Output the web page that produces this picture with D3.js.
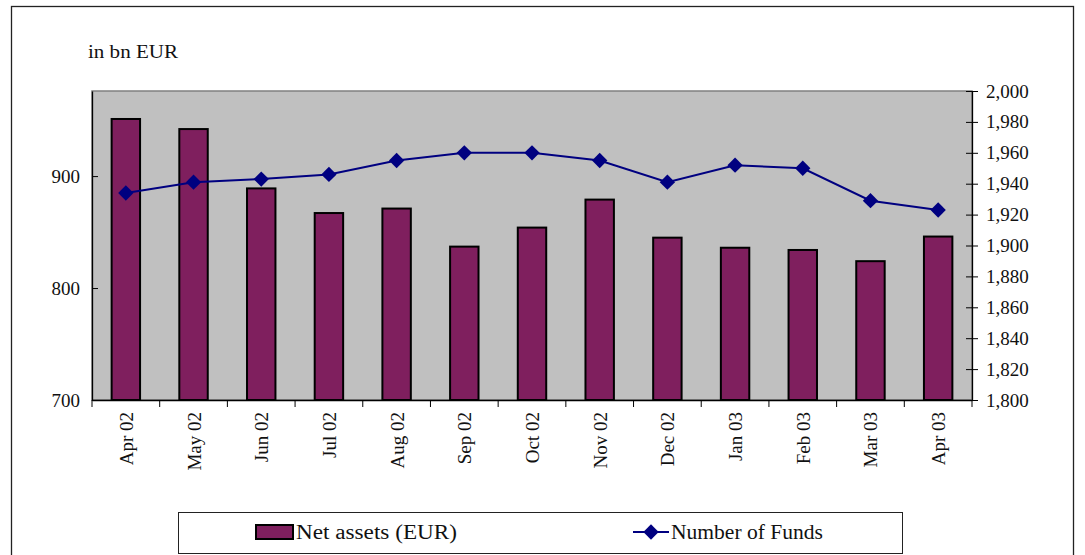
<!DOCTYPE html>
<html>
<head>
<meta charset="utf-8">
<script src="https://cdn.jsdelivr.net/npm/d3@7"></script>
<style>
  body { margin: 0; background: #fff; }
  svg text { font-family: "Liberation Serif", "DejaVu Serif", serif; fill: #111; }
</style>
</head>
<body>
<div id="chart"></div>
<script>
// months shown on the x axis
const months = ["Apr 02", "May 02", "Jun 02", "Jul 02", "Aug 02", "Sep 02", "Oct 02",
                "Nov 02", "Dec 02", "Jan 03", "Feb 03", "Mar 03", "Apr 03"];
// net assets in bn EUR (bars, left axis)
const netAssets = [951, 942, 889, 867, 871, 837, 854, 879, 845, 836, 834, 824, 846];
// number of funds (line, right axis)
const numFunds = [1934, 1941, 1943, 1946, 1955, 1960, 1960, 1955, 1941, 1952, 1950, 1929, 1923];
const leftTicks = [700, 800, 900];
const rightTicks = d3.range(1800, 2001, 20);

const width = 1085, height = 555;
const margin = {top: 91, right: 113, bottom: 155, left: 92};
const serif = "'Liberation Serif', 'DejaVu Serif', serif";

const svg = d3.select("#chart")
    .append("svg")
    .attr("width", width)
    .attr("height", height)
    .attr("font-family", serif);

// outer frame
svg.append("rect")
    .attr("x", 11.5).attr("y", 6.5)
    .attr("width", 1062).attr("height", 560)
    .attr("fill", "none").attr("stroke", "#222").attr("stroke-width", 1.3);

const x = d3.scaleBand()
    .domain(months)
    .range([margin.left, width - margin.right]);

const yL = d3.scaleLinear()
    .domain([700, 976])
    .range([height - margin.bottom, margin.top]);

const yR = d3.scaleLinear()
    .domain([1800, 2000])
    .range([height - margin.bottom, margin.top]);

// gray plot area
svg.append("rect")
    .attr("x", margin.left).attr("y", margin.top)
    .attr("width", width - margin.right - margin.left)
    .attr("height", height - margin.bottom - margin.top)
    .attr("fill", "#c0c0c0")
    .attr("stroke", "#808080").attr("stroke-width", 1.5);

// bars
const barW = x.bandwidth() * 0.42;
svg.selectAll(".bar")
    .data(netAssets)
    .join("rect")
    .attr("class", "bar")
    .attr("x", (d, i) => x(months[i]) + (x.bandwidth() - barW) / 2)
    .attr("y", d => yL(d))
    .attr("width", barW)
    .attr("height", d => yL(700) - yL(d))
    .attr("fill", "#7f1f5e")
    .attr("stroke", "#000").attr("stroke-width", 2);

// line of number of funds
const line = d3.line()
    .x((d, i) => x(months[i]) + x.bandwidth() / 2)
    .y(d => yR(d));

svg.append("path")
    .datum(numFunds)
    .attr("d", line)
    .attr("fill", "none")
    .attr("stroke", "#000080")
    .attr("stroke-width", 2);

const diamond = d3.symbol().type(d3.symbolDiamond2).size(150);
svg.selectAll(".pt")
    .data(numFunds)
    .join("path")
    .attr("class", "pt")
    .attr("transform", (d, i) => `translate(${x(months[i]) + x.bandwidth() / 2},${yR(d)})`)
    .attr("d", diamond)
    .attr("fill", "#000080");

// axes
const leftAxis = svg.append("g")
    .attr("transform", `translate(${margin.left},0)`)
    .call(d3.axisLeft(yL).tickValues(leftTicks).tickSizeInner(6).tickSizeOuter(0).tickPadding(6));
leftAxis.selectAll(".tick line").attr("x2", 6);

const rightAxis = svg.append("g")
    .attr("transform", `translate(${width - margin.right},0)`)
    .call(d3.axisRight(yR).tickValues(rightTicks).tickFormat(d3.format(","))
        .tickSizeInner(6).tickSizeOuter(0).tickPadding(8));
rightAxis.selectAll(".tick line").attr("x1", -6);

const bottomAxis = svg.append("g")
    .attr("transform", `translate(0,${height - margin.bottom})`)
    .call(d3.axisBottom(x).tickSize(0).tickFormat(""));

// tick marks between categories
bottomAxis.selectAll(".sep")
    .data(months.concat(["end"]))
    .join("line")
    .attr("class", "sep")
    .attr("x1", (d, i) => margin.left + i * x.step())
    .attr("x2", (d, i) => margin.left + i * x.step())
    .attr("y1", 0).attr("y2", 7)
    .attr("stroke", "#000");

// rotated month labels
svg.selectAll(".mlab")
    .data(months)
    .join("text")
    .attr("class", "mlab")
    .attr("transform", d => `translate(${x(d) + x.bandwidth() / 2 + 7},${height - margin.bottom + 12}) rotate(-90)`)
    .attr("text-anchor", "end")
    .attr("font-family", serif)
    .style("font-size", "19px")
    .text(d => d);

[leftAxis, rightAxis, bottomAxis].forEach(g => {
    g.attr("font-family", serif);
    g.selectAll(".domain").attr("stroke", "#000").attr("stroke-width", 1.3);
    g.selectAll(".tick line").attr("stroke", "#000");
    g.selectAll(".tick text").style("font-size", "19px").attr("fill", "#111");
});

// unit label
svg.append("text")
    .attr("x", 88).attr("y", 58)
    .style("font-size", "19px")
    .attr("textLength", 90)
    .attr("lengthAdjust", "spacingAndGlyphs")
    .text("in bn EUR");

// legend
svg.append("rect")
    .attr("x", 178.5).attr("y", 512.5)
    .attr("width", 724).attr("height", 41)
    .attr("fill", "#fff").attr("stroke", "#222").attr("stroke-width", 1);

svg.append("rect")
    .attr("x", 256).attr("y", 525)
    .attr("width", 37).attr("height", 14)
    .attr("fill", "#7f1f5e").attr("stroke", "#000").attr("stroke-width", 2);
svg.append("text")
    .attr("x", 296).attr("y", 539)
    .style("font-size", "20px")
    .attr("textLength", 161)
    .attr("lengthAdjust", "spacingAndGlyphs")
    .text("Net assets (EUR)");

svg.append("line")
    .attr("x1", 633).attr("x2", 669)
    .attr("y1", 532).attr("y2", 532)
    .attr("stroke", "#000080").attr("stroke-width", 2);
svg.append("path")
    .attr("transform", "translate(651,532)")
    .attr("d", diamond)
    .attr("fill", "#000080");
svg.append("text")
    .attr("x", 671).attr("y", 539)
    .style("font-size", "20px")
    .attr("textLength", 152)
    .attr("lengthAdjust", "spacingAndGlyphs")
    .text("Number of Funds");
</script>
</body>
</html>
